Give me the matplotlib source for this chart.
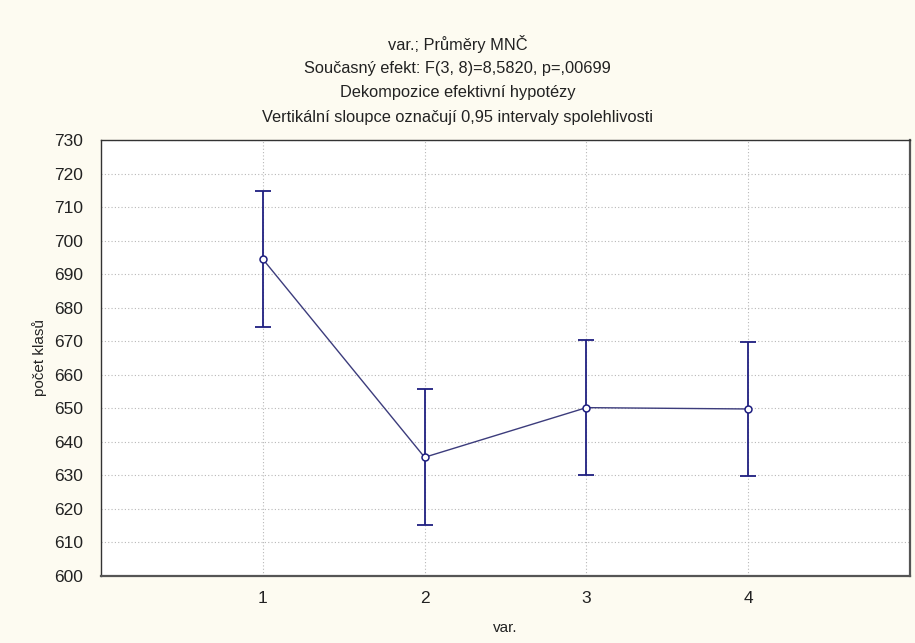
import matplotlib.pyplot as plt

plt.rcParams['font.family'] = ['Liberation Sans', 'DejaVu Sans']

skupiny = [1, 2, 3, 4]
prumery = [694.5, 635.4, 650.2, 649.8]
interval = [20.2, 20.3, 20.2, 20.1]

y_ticks = list(range(600, 731, 10))
x_ticks = [1, 2, 3, 4]

nadpis = [
    'var.; Průměry MNČ',
    'Současný efekt: F(3, 8)=8,5820, p=,00699',
    'Dekompozice efektivní hypotézy',
    'Vertikální sloupce označují 0,95 intervaly spolehlivosti',
]

fig = plt.figure(figsize=(9.15, 6.43), dpi=100)
fig.patch.set_facecolor('#fdfbf1')
ax = fig.add_axes([101 / 915, 1 - 576 / 643, 809 / 915, 436 / 643])
ax.set_facecolor('white')

ax.plot(skupiny, prumery, color='#3c3c7c', linewidth=1.0, zorder=2)
ax.errorbar(skupiny, prumery, yerr=interval, fmt='none', ecolor='#1f1f80',
            elinewidth=1.3, capsize=6, capthick=1.3, zorder=3)
ax.plot(skupiny, prumery, linestyle='none', marker='o', markersize=5,
        markerfacecolor='white', markeredgecolor='#1f1f80', markeredgewidth=1.1, zorder=4)

ax.set_xlim(0, 5)
ax.set_ylim(600, 730)
ax.set_xticks(x_ticks)
ax.set_yticks(y_ticks)
ax.tick_params(length=0, labelsize=12.5, colors='#222222')
ax.tick_params(axis='y', pad=13)
ax.tick_params(axis='x', pad=11)
ax.grid(True, linestyle=(0, (1, 2)), color='#b8b8b8', linewidth=0.8)
ax.set_axisbelow(True)

for s in ['left', 'top']:
    ax.spines[s].set_color('#333333')
    ax.spines[s].set_linewidth(1.0)
for s in ['right', 'bottom']:
    ax.spines[s].set_color('#555555')
    ax.spines[s].set_linewidth(1.6)

ax.set_xlabel('var.', fontsize=11, color='#222222', va='center')
ax.set_ylabel('počet klasů', fontsize=11, color='#222222', va='center')
ax.xaxis.set_label_coords(0.5, (576 - 628) / 436)
ax.yaxis.set_label_coords((40 - 101) / 809, 0.5)

for i, t in enumerate(nadpis):
    fig.text(0.5, 1 - (44 + 24.4 * i) / 643, t, ha='center', va='center',
             fontsize=11.8, color='#222222')

fig.savefig('out.png', dpi=100, facecolor=fig.get_facecolor())
